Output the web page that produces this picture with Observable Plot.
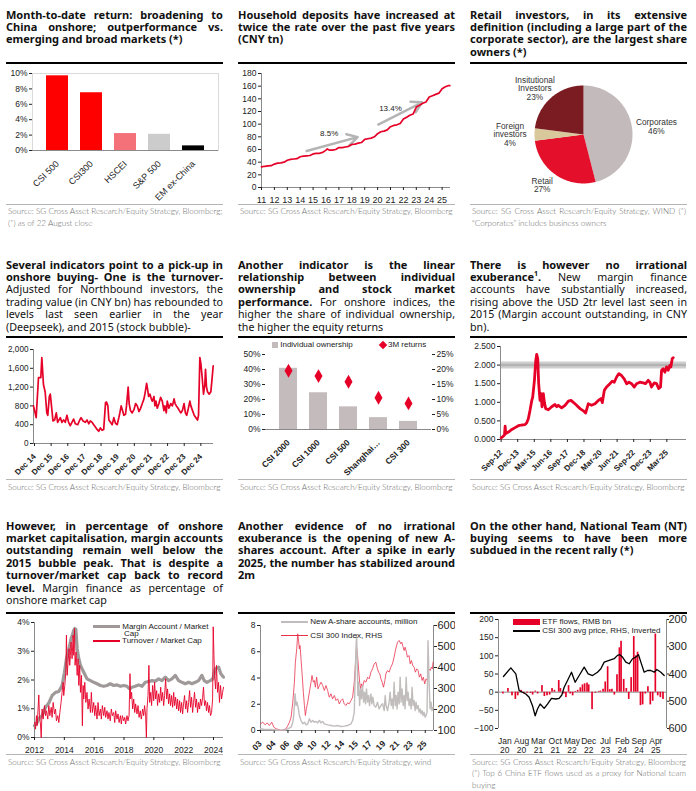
<!DOCTYPE html>
<html><head><meta charset="utf-8">
<script src="https://cdn.jsdelivr.net/npm/d3@7"></script>
<script src="https://cdn.jsdelivr.net/npm/@observablehq/plot@0.6"></script>
<style>
html,body{margin:0;padding:0;background:#fff;}
#page{position:relative;width:696px;height:791px;overflow:hidden;background:#fff;}
.title{position:absolute;width:217px;font-family:"Noto Sans",sans-serif;font-size:10.7px;line-height:12.4px;text-align:justify;color:#111;}
.title b{font-weight:700;font-size:11px;}
.rule{position:absolute;width:217px;height:2px;background:#000;}
.grule{position:absolute;width:217px;height:1px;background:#b5b5b5;}
.src{position:absolute;width:214px;font-family:Lato,sans-serif;font-weight:300;font-size:8.1px;line-height:11.5px;color:#6a6a6a;}
.src div{white-space:nowrap;}
.src div.full{text-align:justify;text-align-last:justify;}
.chart{position:absolute;overflow:visible;}
.leg{position:absolute;font-family:"Liberation Sans",Arial,sans-serif;font-size:8px;color:#222;white-space:nowrap;line-height:8px;}
.sw{display:inline-block;vertical-align:middle;}
</style></head>
<body><div id="page"></div>
<script>
const RED = "#e60028";
// ---------- Panel 1 data
const p1Cats = ["CSI 500","CSI300","HSCEI","S&P 500","EM ex-China"];
const p1Vals = [9.7, 7.5, 2.2, 2.1, 0.6];
const p1Colors = ["#ff0000","#ff0000","#f4717a","#cccccc","#000000"];
// ---------- Panel 2 data (household deposits, CNY tn)
const p2Years = [2011,2011.25,2011.5,2011.75,2012,2012.25,2012.5,2012.75,2013,2013.25,2013.5,2013.75,2014,2014.25,2014.5,2014.75,2015,2015.25,2015.5,2015.75,2016,2016.1,2016.25,2016.5,2016.75,2017,2017.25,2017.5,2017.75,2018,2018.25,2018.5,2018.75,2019,2019.25,2019.5,2019.75,2020,2020.25,2020.5,2020.75,2021,2021.25,2021.5,2021.75,2022,2022.25,2022.5,2022.75,2023,2023.25,2023.5,2023.75,2024,2024.25,2024.5,2024.75,2025,2025.25,2025.5,2025.6];
const p2Vals = [32.5,33.5,34,34.5,37,38.5,39,40,43,44.5,45,45.5,48.5,49.5,50,50.5,53,54,54,55.5,59,61,59,59,60,63,63,64,65,68,68.5,70,71,76,77,78,80,85,88,89,91,96,98,99,101,108,111,114,116,127,130,133,135,143,145,147,149,156,159,161,161];
const p2ArrowFrom = [[2014.5,57.6],[2020.05,99.4]];
const p2ArrowTo = [[2018.45,79.5],[2023.45,134.5]];
const p2ArrowLabels = ["8.5%","13.4%"];
const p2LabelAt = [[2016.25,86],[2021.0,125.6]];
// ---------- Panel 3 data
const p3Names = ["Corporates","Retail","Foreign investors","Insitutional Investors"];
const p3Labels = ["Corporates\n46%","Retail\n27%","Foreign\ninvestors\n4%","Insitutional\nInvestors\n23%"];
const p3Vals = [46,27,4,23];
const p3Colors = ["#c3bbbb","#e4102b","#d9c89c","#7a1c22"];
// ---------- Panel 4 data (turnover, CNY bn)
const p4Series = [[2014.86,800],[2015.02,550],[2015.16,1400],[2015.30,1400],[2015.36,1830],[2015.46,1250],[2015.56,1100],[2015.66,650],[2015.72,600],[2015.81,1000],[2015.87,1050],[2015.97,700],[2016.03,480],[2016.13,500],[2016.23,650],[2016.31,450],[2016.47,550],[2016.57,450],[2016.67,500],[2016.77,450],[2016.87,600],[2016.97,450],[2017.07,380],[2017.17,450],[2017.27,520],[2017.37,420],[2017.52,400],[2017.64,500],[2017.72,550],[2017.84,480],[2017.98,450],[2018.08,500],[2018.18,420],[2018.28,480],[2018.38,450],[2018.48,400],[2018.58,350],[2018.68,300],[2018.78,260],[2018.88,330],[2018.98,280],[2019.08,300],[2019.19,870],[2019.25,880],[2019.33,800],[2019.39,500],[2019.49,450],[2019.59,400],[2019.69,550],[2019.79,430],[2019.89,400],[2019.99,550],[2020.05,650],[2020.13,800],[2020.21,700],[2020.29,600],[2020.39,620],[2020.45,800],[2020.55,1200],[2020.61,850],[2020.69,700],[2020.79,650],[2020.90,720],[2021.00,850],[2021.10,800],[2021.20,680],[2021.30,750],[2021.40,850],[2021.50,950],[2021.58,1100],[2021.66,1280],[2021.72,1150],[2021.78,1000],[2021.86,1050],[2021.94,950],[2022.00,900],[2022.10,1000],[2022.16,800],[2022.22,900],[2022.30,750],[2022.40,850],[2022.50,980],[2022.60,900],[2022.70,700],[2022.76,800],[2022.84,650],[2022.90,900],[2023.00,750],[2023.11,850],[2023.21,800],[2023.31,950],[2023.37,850],[2023.45,800],[2023.55,750],[2023.63,700],[2023.71,650],[2023.81,700],[2023.91,850],[2023.99,650],[2024.07,600],[2024.17,750],[2024.26,900],[2024.32,800],[2024.42,700],[2024.52,600],[2024.62,550],[2024.72,500],[2024.78,600],[2024.86,1830],[2024.92,1700],[2025.00,1400],[2025.08,1050],[2025.16,1250],[2025.20,1580],[2025.26,1200],[2025.32,1100],[2025.42,1050],[2025.52,1100],[2025.60,1400],[2025.66,1650]];
const p4TickPos = [2014.92,2015.92,2016.92,2017.92,2018.92,2019.92,2020.92,2021.92,2022.92,2023.92,2024.92];
const p4TickLabels = ["Dec 14","Dec 15","Dec 16","Dec 17","Dec 18","Dec 19","Dec 20","Dec 21","Dec 22","Dec 23","Dec 24"];
// ---------- Panel 5 data
const p5Cats = ["CSI 2000","CSI 1000","CSI 500","Shanghai…","CSI 300"];
const p5Own = [40.8, 24.5, 15.1, 7.9, 5.4];
const p5Ret = [19.6, 17.8, 15.9, 10.6, 8.7];
// ---------- Panel 6 data (margin outstanding, CNY tn)
const p6Series = [[2012.67,0.045],[2012.77,0.07],[2012.92,0.12],[2012.97,0.36],[2013.02,0.16],[2013.22,0.2],[2013.47,0.27],[2013.72,0.32],[2013.97,0.37],[2014.22,0.39],[2014.47,0.40],[2014.60,0.45],[2014.72,0.56],[2014.85,0.79],[2014.98,1.05],[2015.05,1.14],[2015.18,1.59],[2015.28,2.12],[2015.35,2.29],[2015.43,2.17],[2015.50,1.5],[2015.60,1.05],[2015.68,1.23],[2015.75,0.88],[2015.85,1.23],[2015.93,1.0],[2016.03,0.83],[2016.23,0.80],[2016.48,0.88],[2016.73,0.94],[2016.86,0.88],[2016.98,0.92],[2017.23,0.85],[2017.49,0.92],[2017.74,1.03],[2017.94,1.05],[2018.11,1.0],[2018.36,0.92],[2018.62,0.83],[2018.87,0.77],[2019.04,0.71],[2019.24,0.96],[2019.49,0.92],[2019.75,0.96],[2020.00,1.05],[2020.20,1.10],[2020.30,0.99],[2020.45,1.32],[2020.62,1.41],[2020.87,1.5],[2021.05,1.57],[2021.20,1.54],[2021.38,1.68],[2021.55,1.77],[2021.75,1.72],[2021.95,1.63],[2022.13,1.5],[2022.31,1.54],[2022.51,1.5],[2022.71,1.41],[2022.88,1.5],[2023.13,1.54],[2023.38,1.52],[2023.56,1.5],[2023.76,1.59],[2023.89,1.54],[2024.01,1.41],[2024.21,1.52],[2024.39,1.5],[2024.56,1.37],[2024.69,1.41],[2024.77,1.86],[2024.89,1.90],[2025.02,1.81],[2025.14,1.95],[2025.27,1.86],[2025.39,1.99],[2025.47,1.95],[2025.57,2.17],[2025.65,2.20]];
const p6Level = [2.0];
const p6TickPos = [2012.667,2013.917,2015.167,2016.417,2017.667,2018.917,2020.167,2021.417,2022.667,2023.917,2025.167];
const p6TickLabels = ["Sep-12","Dec-13","Mar-15","Jun-16","Sep-17","Dec-18","Mar-20","Jun-21","Sep-22","Dec-23","Mar-25"];
// ---------- Panel 7 data (% of market cap)
const p7Margin = [[2012.00,0.41],[2012.18,0.52],[2012.36,0.70],[2012.51,0.76],[2012.74,1.05],[2012.96,1.20],[2013.18,1.46],[2013.41,1.57],[2013.63,1.60],[2013.85,1.81],[2014.01,2.27],[2014.14,2.74],[2014.25,2.97],[2014.36,3.20],[2014.45,3.44],[2014.54,3.56],[2014.63,3.73],[2014.70,3.79],[2014.77,3.77],[2014.86,3.09],[2014.97,2.74],[2015.08,2.51],[2015.30,2.27],[2015.52,2.04],[2015.75,1.98],[2015.97,1.92],[2016.19,1.87],[2016.42,1.81],[2016.64,1.78],[2016.86,1.81],[2017.08,1.87],[2017.31,1.81],[2017.53,1.83],[2017.76,1.78],[2017.98,1.81],[2018.20,1.78],[2018.38,1.69],[2018.54,1.75],[2018.76,1.78],[2018.98,1.83],[2019.21,1.78],[2019.43,1.92],[2019.65,1.95],[2019.88,1.98],[2020.10,1.96],[2020.32,2.04],[2020.54,1.98],[2020.77,2.10],[2020.99,1.98],[2021.21,2.04],[2021.44,2.16],[2021.66,1.98],[2021.88,1.92],[2022.11,1.87],[2022.33,1.92],[2022.55,1.87],[2022.78,1.92],[2023.00,1.98],[2023.22,2.16],[2023.38,1.98],[2023.56,1.92],[2023.78,1.98],[2023.96,2.04],[2024.11,2.39],[2024.34,2.45],[2024.49,2.22],[2024.67,2.10]];
const p7Turnover = [[2012.00,0.52],[2012.07,0.29],[2012.13,0.76],[2012.18,0.41],[2012.22,0.82],[2012.29,1.48],[2012.33,0.76],[2012.40,0.47],[2012.45,0.0],[2012.51,0.99],[2012.58,0.64],[2012.67,1.11],[2012.74,0.76],[2012.80,0.93],[2012.89,0.64],[2012.96,1.11],[2013.03,0.76],[2013.12,1.05],[2013.18,0.70],[2013.25,1.22],[2013.34,0.82],[2013.41,0.99],[2013.47,0.58],[2013.56,0.76],[2013.63,0.52],[2013.70,0.87],[2013.78,1.22],[2013.85,1.57],[2013.92,1.92],[2013.96,1.46],[2014.03,1.81],[2014.10,2.27],[2014.14,3.56],[2014.19,2.16],[2014.25,2.62],[2014.32,3.09],[2014.36,2.51],[2014.41,2.86],[2014.45,3.32],[2014.52,2.74],[2014.59,3.56],[2014.63,2.86],[2014.68,3.79],[2014.72,2.51],[2014.79,2.97],[2014.86,2.16],[2014.92,2.74],[2014.97,1.81],[2015.03,2.51],[2015.08,1.57],[2015.15,2.16],[2015.21,0.41],[2015.26,1.81],[2015.30,1.34],[2015.37,1.92],[2015.44,1.22],[2015.52,1.57],[2015.59,0.99],[2015.66,1.34],[2015.75,0.87],[2015.81,1.57],[2015.88,0.87],[2015.97,1.22],[2016.04,0.76],[2016.10,1.11],[2016.19,0.64],[2016.26,1.22],[2016.33,0.76],[2016.42,0.99],[2016.48,0.64],[2016.55,1.11],[2016.64,0.76],[2016.71,1.05],[2016.77,0.70],[2016.86,0.93],[2016.93,0.64],[2016.99,0.87],[2017.08,0.58],[2017.15,0.99],[2017.22,0.76],[2017.31,0.87],[2017.38,0.52],[2017.44,0.93],[2017.53,0.64],[2017.60,0.82],[2017.67,0.52],[2017.76,0.76],[2017.82,0.47],[2017.89,0.76],[2017.98,0.58],[2018.05,0.70],[2018.11,0.47],[2018.20,0.76],[2018.27,0.58],[2018.34,0.76],[2018.40,2.22],[2018.45,1.34],[2018.51,1.57],[2018.58,0.99],[2018.65,1.34],[2018.72,0.87],[2018.78,1.17],[2018.87,0.82],[2018.94,1.11],[2019.01,0.70],[2019.09,0.93],[2019.16,0.64],[2019.25,0.99],[2019.32,0.76],[2019.38,1.11],[2019.45,0.76],[2019.50,0.0],[2019.54,0.99],[2019.61,1.46],[2019.67,2.51],[2019.72,1.22],[2019.79,1.57],[2019.85,1.11],[2019.92,1.81],[2019.99,1.28],[2020.05,1.92],[2020.12,1.34],[2020.19,1.63],[2020.25,1.11],[2020.32,1.52],[2020.39,1.22],[2020.46,1.75],[2020.52,1.28],[2020.59,1.57],[2020.66,1.11],[2020.72,1.46],[2020.79,2.04],[2020.86,1.34],[2020.92,1.69],[2020.99,1.17],[2021.06,1.52],[2021.12,1.11],[2021.19,1.46],[2021.26,1.05],[2021.33,1.57],[2021.39,1.11],[2021.46,1.40],[2021.53,0.99],[2021.59,1.34],[2021.66,0.93],[2021.73,1.28],[2021.79,0.87],[2021.86,1.22],[2021.93,0.82],[2021.99,1.17],[2022.06,1.46],[2022.13,0.99],[2022.20,1.28],[2022.26,0.87],[2022.33,1.22],[2022.40,1.63],[2022.46,1.05],[2022.53,1.40],[2022.60,0.87],[2022.66,1.22],[2022.73,1.57],[2022.80,1.05],[2022.86,1.34],[2022.93,0.87],[2023.00,1.22],[2023.07,0.99],[2023.13,1.34],[2023.20,1.11],[2023.27,1.40],[2023.33,1.75],[2023.40,1.11],[2023.47,1.28],[2023.53,0.93],[2023.60,1.22],[2023.67,0.87],[2023.73,1.11],[2023.80,0.76],[2023.87,0.87],[2023.94,1.34],[2023.98,3.85],[2024.03,2.86],[2024.07,2.16],[2024.14,1.69],[2024.20,2.51],[2024.27,1.57],[2024.34,1.92],[2024.40,1.22],[2024.47,1.81],[2024.54,1.34],[2024.61,1.57],[2024.67,1.75]];
// ---------- Panel 8 data (x = position on the period axis)
const p8TickLabels = ["03","04","06","08","10","12","14","15","17","19","21","23","25"];
const p8Accounts = [[0,0.13],[0.29,0.08],[0.77,0.08],[1.26,0.03],[1.74,0.03],[1.99,0.13],[2.23,0.25],[2.35,0.63],[2.42,1.14],[2.52,2.8],[2.59,1.9],[2.66,2.16],[2.76,1.65],[2.83,1.14],[2.95,0.76],[3.08,0.51],[3.20,0.63],[3.32,0.43],[3.44,0.51],[3.56,0.89],[3.68,0.63],[3.80,0.76],[3.92,0.63],[4.04,0.69],[4.16,0.58],[4.29,0.76],[4.41,0.58],[4.53,0.69],[4.65,0.51],[4.89,0.43],[5.13,0.38],[5.38,0.33],[5.62,0.38],[5.86,0.30],[6.10,0.33],[6.34,0.38],[6.59,0.51],[6.71,0.76],[6.83,1.40],[6.90,4.19],[6.95,6.22],[7.00,7.3],[7.05,4.95],[7.09,2.67],[7.14,3.68],[7.22,1.90],[7.29,3.17],[7.36,2.41],[7.43,3.43],[7.51,2.16],[7.58,2.92],[7.65,2.03],[7.72,3.17],[7.80,2.16],[7.87,2.67],[7.94,1.90],[8.04,2.79],[8.11,2.03],[8.18,2.54],[8.28,1.90],[8.40,1.78],[8.52,2.16],[8.64,1.65],[8.77,1.90],[8.89,2.03],[9.01,1.52],[9.08,2.67],[9.15,1.90],[9.25,1.52],[9.37,2.16],[9.44,2.92],[9.52,1.90],[9.59,2.41],[9.66,1.65],[9.73,3.68],[9.81,1.90],[9.88,2.67],[9.95,1.65],[10.02,2.92],[10.10,2.03],[10.17,4.06],[10.24,2.16],[10.31,3.17],[10.39,1.90],[10.46,2.67],[10.53,1.65],[10.61,4.06],[10.68,2.28],[10.75,2.92],[10.82,1.90],[10.90,2.41],[10.97,1.65],[11.04,3.30],[11.11,1.90],[11.19,2.28],[11.26,1.52],[11.33,2.16],[11.40,1.65],[11.48,1.90],[11.55,1.40],[11.62,1.65],[11.69,1.27],[11.77,1.52],[11.84,1.14],[11.91,1.40],[11.99,1.02],[12.06,1.14],[12.13,1.40],[12.20,6.85],[12.28,3.68],[12.35,1.65],[12.42,2.16],[12.49,1.52],[12.57,1.78]];
const p8Csi300 = [[0,1317],[0.17,1397],[0.34,1270],[0.48,1365],[0.65,1238],[0.82,1397],[0.97,1159],[1.14,1079],[1.31,1048],[1.50,1000],[1.69,1032],[1.86,1079],[1.99,1238],[2.11,1397],[2.23,1635],[2.35,2349],[2.47,3301],[2.54,4254],[2.64,4889],[2.71,5603],[2.76,5365],[2.83,4889],[2.88,5047],[2.95,4412],[3.03,3698],[3.12,2825],[3.20,2190],[3.27,1714],[3.34,2032],[3.44,2349],[3.56,2825],[3.68,3301],[3.75,3619],[3.85,3301],[3.92,3381],[4.00,3063],[4.09,3540],[4.19,2984],[4.29,3142],[4.41,3301],[4.53,3142],[4.65,2905],[4.77,3142],[4.89,2905],[5.01,2587],[5.13,2746],[5.25,2508],[5.38,2666],[5.50,2428],[5.62,2508],[5.74,2270],[5.86,2428],[5.98,2508],[6.10,2270],[6.22,2190],[6.34,2317],[6.46,2270],[6.59,2428],[6.71,2587],[6.83,3301],[6.92,4254],[7.00,4968],[7.07,4571],[7.14,3936],[7.22,3301],[7.29,2984],[7.36,3222],[7.43,3063],[7.55,3381],[7.68,3301],[7.80,3540],[7.92,3460],[8.04,3777],[8.16,3936],[8.28,4174],[8.40,4254],[8.52,3936],[8.60,3777],[8.69,3698],[8.77,3460],[8.86,3301],[8.96,3063],[9.06,3381],[9.13,3698],[9.25,3857],[9.37,3777],[9.49,4016],[9.61,4174],[9.73,4492],[9.85,4889],[9.98,5206],[10.10,5285],[10.22,5127],[10.29,5206],[10.39,4968],[10.46,4809],[10.53,4968],[10.63,4730],[10.70,4492],[10.82,4571],[10.90,4174],[10.99,4333],[11.09,4095],[11.19,4016],[11.28,3777],[11.38,3936],[11.48,3857],[11.57,3540],[11.67,3698],[11.77,3381],[11.86,3540],[11.96,3222],[12.06,3460],[12.15,3381],[12.25,3936],[12.35,3857],[12.45,4016],[12.52,3936],[12.57,4254]];
const p8RightTicks = [1000,2000,3000,4000,5000,6000];
// ---------- Panel 9 data (x = months since Jan 2020)
const p9Flows = [[-0.6,-5],[1.5,10],[3.2,-10],[4.6,-20],[5.6,-10],[7.0,5],[8.1,-5],[9.5,-3],[10.9,-3],[11.8,-8],[12.9,3],[13.9,-5],[15.7,18],[16.7,-12],[17.8,-10],[18.9,-8],[19.9,10],[20.9,5],[22.7,32],[23.4,10],[24.8,-5],[25.7,-15],[26.8,18],[27.5,-5],[28.5,-10],[29.6,2],[30.6,5],[31.7,12],[32.6,20],[33.5,23],[34.5,25],[35.2,20],[36.6,-48],[38.0,-3],[39.4,2],[40.1,3],[41.2,8],[42.1,28],[43.1,70],[44.0,7],[44.9,8],[45.9,-8],[47.0,48],[48.0,122],[48.7,140],[49.8,35],[50.9,10],[51.9,-20],[52.9,40],[54.0,153],[54.8,100],[55.6,110],[56.8,-37],[57.7,-35],[58.8,-5],[59.9,15],[60.9,-35],[61.9,-25],[63.0,160],[64.0,-10],[65.1,-15],[66.2,-20]];
const p9Price = [[-0.56,4093],[2.50,3773],[4.59,3994],[5.98,4610],[7.37,4671],[8.76,4733],[10.15,4856],[11.54,5163],[12.66,5533],[13.63,5287],[14.74,5102],[16.41,5262],[17.80,5102],[19.47,4893],[21.28,4917],[22.67,4893],[23.78,4770],[24.76,4487],[26.15,4240],[27.82,3933],[29.35,4302],[31.02,4056],[33.11,3748],[34.77,3994],[36.58,4056],[38.66,3933],[40.06,3810],[41.45,3563],[43.53,3502],[45.62,3440],[47.01,3317],[47.98,3293],[49.10,3379],[50.49,3563],[51.88,3625],[53.27,3440],[54.66,3379],[55.77,3293],[56.75,3563],[58.14,3933],[59.53,3871],[60.92,3871],[62.31,3933],[63.42,3834],[65.09,3933],[66.48,4056]];
const p9TickPos = [0,7,14,21,28,35,42,49,56,63];
const p9TickLabels = ["Jan\n20","Aug\n20","Mar\n21","Oct\n21","May\n22","Dec\n22","Jul\n23","Feb\n24","Sep\n24","Apr\n25"];
const p9RightTicks = [2000,3000,4000,5000,6000];

// ---------- helpers
const FONT = '"Liberation Sans", Arial, sans-serif';
const common = {width:217, style:{fontFamily:FONT, fontSize:"8.5px", color:"#222", background:"transparent", overflow:"visible"}};
const lookup = (pos, labels) => d => { const i = pos.findIndex(p => Math.abs(p - d) < 1e-6); return i < 0 ? "" : labels[i]; };
const AX = "#8a8a8a";

// Panel 1
const c1 = Plot.plot({...common, height:140, marginLeft:26, marginRight:5, marginTop:9, marginBottom:54,
  x:{domain:p1Cats, padding:0.34}, y:{domain:[0,10]},
  color:{domain:p1Cats, range:p1Colors},
  marks:[
    Plot.frame({stroke:"#dadada"}),
    Plot.barY(p1Cats, {x:d=>d, y:(d,i)=>p1Vals[i], fill:d=>d}),
    Plot.ruleY([0], {stroke:AX}),
    Plot.axisY({ticks:[0,2,4,6,8,10], tickFormat:d=>d+"%", tickSize:3, tickPadding:2, label:null}),
    Plot.axisX({tickRotate:-45, tickSize:0, label:null, fontSize:9})
  ]});

// Panel 2
const c2 = Plot.plot({...common, height:140, marginLeft:23, marginRight:5, marginTop:9, marginBottom:17,
  x:{domain:[2011,2025.65]}, y:{domain:[0,180]},
  marks:[
    Plot.ruleX([2011], {stroke:AX}), Plot.ruleY([0], {stroke:AX}),
    Plot.axisY({ticks:d3.range(0,181,20), tickSize:3, tickPadding:2, label:null}),
    Plot.axisX({ticks:d3.range(2011,2026), tickFormat:d=>String(d).slice(2), tickSize:3, label:null, fontSize:9}),
    Plot.arrow(p2ArrowFrom, {x1:d=>d[0], y1:d=>d[1], x2:(d,i)=>p2ArrowTo[i][0], y2:(d,i)=>p2ArrowTo[i][1], stroke:"#b4b4b4", strokeWidth:2.5, headLength:7}),
    Plot.text(p2ArrowLabels, {x:(d,i)=>p2LabelAt[i][0], y:(d,i)=>p2LabelAt[i][1], text:d=>d, fontSize:8}),
    Plot.line(p2Years, {x:d=>d, y:(d,i)=>p2Vals[i], stroke:RED, strokeWidth:1.7})
  ]});

// Panel 3 (pie)
const arcs = d3.pie().sort(null).value(d=>d)(p3Vals);
const piePts = arcs.flatMap((a,i) => {
  const n = Math.max(2, Math.ceil((a.endAngle - a.startAngle) / 0.03));
  const pts = [{i, x:0, y:0}];
  for (let k = 0; k <= n; k++) { const t = a.startAngle + (a.endAngle - a.startAngle) * k / n; pts.push({i, x:Math.sin(t), y:Math.cos(t)}); }
  pts.push({i, x:0, y:0});
  return pts;
});
const pieMid = arcs.map(a => (a.startAngle + a.endAngle) / 2);
const c3 = Plot.plot({...common, height:140, margin:0,
  x:{domain:[-1,1], range:[64,162], axis:null}, y:{domain:[-1,1], range:[119,21], axis:null},
  color:{domain:p3Names, range:p3Colors},
  marks:[
    Plot.line(piePts, {x:"x", y:"y", z:"i", fill:d=>p3Names[d.i], stroke:"none"}),
    Plot.text(p3Labels, {x:(d,i)=>1.5*Math.sin(pieMid[i]), y:(d,i)=>1.25*Math.cos(pieMid[i]), text:d=>d, fontSize:8.3, lineHeight:1.05, fill:"#333"})
  ]});

// Panel 4
const c4 = Plot.plot({...common, height:141, marginLeft:27, marginRight:10, marginTop:11, marginBottom:36,
  x:{domain:[2014.86,2025.68]}, y:{domain:[0,2000]},
  marks:[
    Plot.ruleX([2014.86], {stroke:AX}), Plot.ruleY([0], {stroke:AX}),
    Plot.axisY({ticks:d3.range(0,2001,400), tickFormat:d3.format(","), tickSize:3, tickPadding:2, label:null, fontSize:8.2}),
    Plot.axisX({ticks:p4TickPos, tickFormat:lookup(p4TickPos,p4TickLabels), tickRotate:-45, tickSize:3, label:null, fontWeight:"bold", fontSize:8}),
    Plot.line(p4Series, {x:d=>d[0], y:d=>d[1], stroke:RED, strokeWidth:1.7})
  ]});

// Panel 5
const c5 = Plot.plot({...common, height:141, marginLeft:27, marginRight:24, marginTop:16, marginBottom:50,
  x:{domain:p5Cats, padding:0.4}, y:{domain:[0,50]},
  marks:[
    Plot.ruleY([0], {stroke:AX}),
    Plot.barY(p5Cats, {x:d=>d, y:(d,i)=>p5Own[i], fill:"#c4bcbc"}),
    Plot.dot(p5Cats, {x:d=>d, y:(d,i)=>p5Ret[i]*2, symbol:"diamond", r:4.2, fill:RED}),
    Plot.axisY({ticks:[0,10,20,30,40,50], tickFormat:d=>d+"%", tickSize:3, tickPadding:2, label:null}),
    Plot.axisY({anchor:"right", ticks:[0,10,20,30,40,50], tickFormat:d=>(d/2)+"%", tickSize:3, tickPadding:2, label:null}),
    Plot.axisX({tickRotate:-45, tickSize:0, label:null, fontWeight:"bold", fontSize:8.5})
  ]});

// Panel 6
const c6 = Plot.plot({...common, height:141, marginLeft:30, marginRight:1, marginTop:8, marginBottom:40,
  x:{domain:[2012.62,2026.65]}, y:{domain:[0,2.5]},
  marks:[
    Plot.ruleY(p6Level, {stroke:"#cfcfcf", strokeWidth:7}),
    Plot.ruleY(p6Level, {stroke:"#b3b3b3", strokeWidth:2.5}),
    Plot.ruleX([2012.62], {stroke:AX}), Plot.ruleY([0], {stroke:AX}),
    Plot.axisY({ticks:[0,0.5,1,1.5,2,2.5], tickFormat:d3.format(".3f"), tickSize:3, tickPadding:2, label:null}),
    Plot.axisX({ticks:p6TickPos, tickFormat:lookup(p6TickPos,p6TickLabels), tickRotate:-45, tickSize:3, label:null, fontWeight:"bold", fontSize:8}),
    Plot.line(p6Series, {x:d=>d[0], y:d=>d[1], stroke:RED, strokeWidth:2.8})
  ]});

// Panel 7
const c7 = Plot.plot({...common, height:140, marginLeft:28, marginRight:0, marginTop:8, marginBottom:17,
  x:{domain:[2012,2024.67]}, y:{domain:[0,4]},
  marks:[
    Plot.ruleX([2012], {stroke:AX}), Plot.ruleY([0], {stroke:AX}),
    Plot.axisY({ticks:[0,1,2,3,4], tickFormat:d=>d+"%", tickSize:3, tickPadding:2, label:null}),
    Plot.axisX({ticks:d3.range(2012,2025,2), tickFormat:d=>String(d), tickSize:3, label:null}),
    Plot.line(p7Margin, {x:d=>d[0], y:d=>d[1], stroke:"#a09999", strokeWidth:3.2}),
    Plot.line(p7Turnover, {x:d=>d[0], y:d=>d[1], stroke:RED, strokeWidth:0.9})
  ]});

// Panel 8
const toLeft8 = v => (v - 1000) / 5000 * 8;
const c8 = Plot.plot({...common, height:140, marginLeft:22, marginRight:22, marginTop:11, marginBottom:24,
  x:{domain:[0,12.6]}, y:{domain:[0,8]},
  marks:[
    Plot.ruleX([0], {stroke:AX}), Plot.ruleX([12.6], {stroke:AX}), Plot.ruleY([0], {stroke:AX}),
    Plot.axisY({ticks:[0,2,4,6,8], tickSize:3, tickPadding:2, label:null}),
    Plot.axisY({anchor:"right", ticks:p8RightTicks.map(toLeft8), tickFormat:d=>String(Math.round(d/8*5000+1000)), tickSize:3, tickPadding:1, label:null, fontSize:11}),
    Plot.axisX({ticks:d3.range(0,13), tickFormat:d=>p8TickLabels[d], tickRotate:-45, tickSize:3, label:null, fontWeight:"bold", fontSize:8.5}),
    Plot.line(p8Csi300, {x:d=>d[0], y:d=>toLeft8(d[1]), stroke:"#e8324c", strokeWidth:0.8}),
    Plot.line(p8Accounts, {x:d=>d[0], y:d=>d[1], stroke:"#c2bdbd", strokeWidth:1.4})
  ]});

// Panel 9
const toLeft9 = p => 200 - (p - 2000) * 300 / 4000;
const c9 = Plot.plot({...common, height:140, marginLeft:28, marginRight:21, marginTop:5, marginBottom:26,
  x:{domain:[-2.64,67.45]}, y:{domain:[-100,200]},
  marks:[
    Plot.ruleX([-2.64], {stroke:AX}), Plot.ruleX([67.45], {stroke:AX}), Plot.ruleY([0], {stroke:AX}),
    Plot.axisY({ticks:[-100,-50,0,50,100,150,200], tickSize:3, tickPadding:2, label:null}),
    Plot.axisY({anchor:"right", ticks:p9RightTicks.map(toLeft9), tickFormat:d=>String(Math.round(2000+(200-d)*4000/300)), tickSize:2, tickPadding:0, label:null, fontSize:11}),
    Plot.axisX({ticks:p9TickPos, tickFormat:lookup(p9TickPos,p9TickLabels), tickSize:0, label:null, fontSize:8.5, lineHeight:1.05}),
    Plot.rect(p9Flows, {x1:d=>d[0]-0.35, x2:d=>d[0]+0.35, y1:()=>0, y2:d=>d[1], fill:RED}),
    Plot.line(p9Price, {x:d=>d[0], y:d=>toLeft9(d[1]), stroke:"#000", strokeWidth:1.3})
  ]});

// ---------- layout
const page = document.getElementById("page");
const cols = [6, 238, 470];
const rows = [
  {title:8.5, rule:62, chart:64, grule:204, src:206},
  {title:258.5, rule:336, chart:338, grule:479, src:481.5},
  {title:519.5, rule:612, chart:614, grule:754, src:756.5}
];
function add(cls, left, top, html, extra) {
  const d = document.createElement("div"); d.className = cls;
  d.style.left = left + "px"; d.style.top = top + "px";
  if (html != null) d.innerHTML = html;
  if (extra) Object.assign(d.style, extra);
  page.appendChild(d); return d;
}
const SRC = "Source: SG Cross Asset Research/Equity Strategy, ";
const panels = [
  {c:0,r:0, svg:c1, title:"<b>Month-to-date return: broadening to China onshore; outperformance vs. emerging and broad markets (*)</b>", src:[SRC+"Bloomberg;", "(*) as of 22 August close"]},
  {c:1,r:0, svg:c2, title:"<b>Household deposits have increased at twice the rate over the past five years (CNY tn)</b>", src:[SRC+"Bloomberg"]},
  {c:2,r:0, svg:c3, title:"<b>Retail investors, in its extensive definition (including a large part of the corporate sector), are the largest share owners (*)</b>", src:[SRC+"WIND (*)", "\u201cCorporates\u201d includes business owners"]},
  {c:0,r:1, svg:c4, title:"<b>Several indicators point to a pick-up in onshore buying- One is the turnover-</b>Adjusted for Northbound investors, the trading value (in CNY bn) has rebounded to levels last seen earlier in the year (Deepseek), and 2015 (stock bubble)-", src:[SRC+"Bloomberg"]},
  {c:1,r:1, svg:c5, title:"<b>Another indicator is the linear relationship between individual ownership and stock market performance.</b> For onshore indices, the higher the share of individual ownership, the higher the equity returns", src:[SRC+"Bloomberg"]},
  {c:2,r:1, svg:c6, title:"<b>There is however no irrational exuberance<sup style=\"font-size:7px;line-height:0\">1</sup>.</b> New margin finance accounts have substantially increased, rising above the USD 2tr level last seen in 2015 (Margin account outstanding, in CNY bn).", src:[SRC+"Bloomberg"]},
  {c:0,r:2, svg:c7, title:"<b>However, in percentage of onshore market capitalisation, margin accounts outstanding remain well below the 2015 bubble peak. That is despite a turnover/market cap back to record level.</b> Margin finance as percentage of onshore market cap", src:[SRC+"Bloomberg"]},
  {c:1,r:2, svg:c8, clip:217, title:"<b>Another evidence of no irrational exuberance is the opening of new A-shares account. After a spike in early 2025, the number has stabilized around 2m</b>", src:[SRC+"wind"]},
  {c:2,r:2, svg:c9, clip:217, title:"<b>On the other hand, National Team (NT) buying seems to have been more subdued in the recent rally (*)</b>", src:[SRC+"Bloomberg", "(*) Top 6 China ETF flows used as a proxy for National team", "buying"]}
];
for (const p of panels) {
  const L = cols[p.c], R = rows[p.r];
  add("title", L, R.title, p.title);
  add("rule", L, R.rule);
  const extra = {width:(p.clip||217)+"px", height:"142px"};
  if (p.clip) extra.overflow = "hidden";
  const ch = add("chart", L, R.chart, null, extra);
  ch.appendChild(p.svg);
  add("grule", L, R.grule);
  const n = p.src.length;
  const html = p.src.map((s,i) => `<div class="${i < n-1 ? "full" : ""}">${s}</div>`).join("");
  add("src", L + 2, R.src, html);
}
// ---------- legends
const line = (w,h,c) => `<span class="sw" style="width:${w}px;height:${h}px;background:${c}"></span>`;
add("leg", 272, 341, `${line(6,6,"#c4bcbc")} Individual ownership`);
add("leg", 380, 341, `<span class="sw" style="width:6px;height:6px;background:${RED};transform:rotate(45deg);margin-right:2px"></span>3M returns`);
add("leg", 93, 623, `${line(27,3,"#a09999")} Margin Account / Market`);
add("leg", 124, 630, `Cap`);
add("leg", 93, 637, `${line(27,1.5,RED)} Turnover / Market Cap`);
add("leg", 281, 618, `${line(27,2,"#c2bdbd")} New A-share accounts, million`);
add("leg", 281, 632, `${line(27,1,"#e8324c")} CSI 300 Index, RHS`);
add("leg", 513, 618, `${line(27,6,RED)} ETF flows, RMB bn`);
add("leg", 513, 627, `${line(27,1.5,"#000")} CSI 300 avg price, RHS, Inverted`);
</script></body></html>
